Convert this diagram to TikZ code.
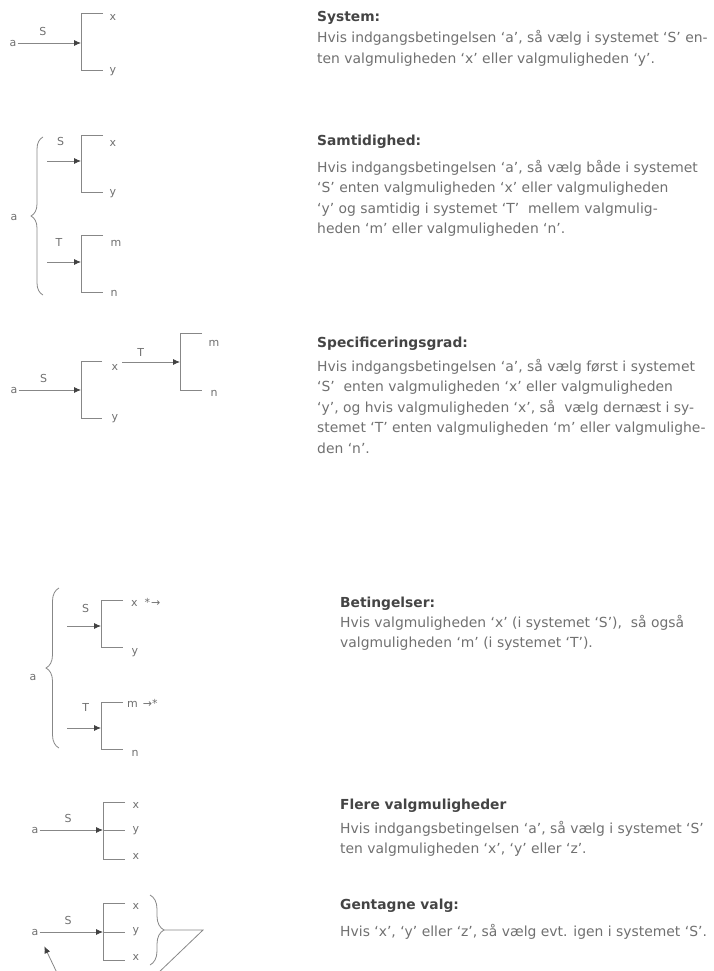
\documentclass[tikz,border=0pt]{standalone}
\usepackage{fontspec}
\setmainfont{DejaVu Sans}
\usepackage{tikz}
\usetikzlibrary{arrows.meta,positioning,decorations.pathreplacing}
\definecolor{linjegraa}{RGB}{135,135,135}
\definecolor{pilgraa}{RGB}{65,65,65}
\definecolor{tekstgraa}{RGB}{112,112,112}
\definecolor{overgraa}{RGB}{68,68,68}
\tikzset{
  etiket/.style={inner sep=1pt,text=tekstgraa,font=\fontsize{11}{13}\selectfont},
  linje/.style={draw=linjegraa,line width=0.8pt},
  pil/.style={-{Latex[length=7pt,width=6pt,color=pilgraa]},draw=linjegraa,line width=0.8pt},
  klamme/.style={draw=linjegraa,line width=0.8pt,decorate,decoration={brace,amplitude=#1}},
  overskrift/.style={anchor=base west,inner sep=0pt,text=overgraa,
    font=\bfseries\fontsize{13.8}{20.5}\selectfont},
  % base = sidste linjes grundlinje
  broedtekst/.style={anchor=base west,inner sep=0pt,align=left,text=tekstgraa,
    font=\fontsize{13.9}{20.5}\selectfont}
}

\begin{document}
\begin{tikzpicture}[x=1pt,y=-1pt]
\useasboundingbox (0,0) rectangle (714,971);

% System
\node[etiket] (a1) at (13,43) {a};
\coordinate (s1) at (81,43);
\coordinate (s1o) at (81,13);
\coordinate (s1n) at (81,70);
\draw[pil] (a1) -- node[etiket,above=6pt,pos=0.4] {S} (s1);
\draw[linje] ([xshift=22pt]s1o) -- (s1o) -- (s1n) -- ([xshift=22pt]s1n);
\node[etiket] (x1) at (113,17) {x};
\node[etiket] (y1) at (113,72) {y};
\node[overskrift] (overskr1) at (317,22) {System:};
\node[broedtekst] (beskr1) at (317,63.5) {Hvis indgangsbetingelsen ‘a’, så vælg i systemet ‘S’ en-\\
  ten valgmuligheden ‘x’ eller valgmuligheden ‘y’.};

% Samtidighed
\node[etiket] (a2) at (14,217) {a};
\draw[klamme=12pt] (43,295) -- (43,137);
\coordinate (s2a) at (47,161);
\coordinate (s2) at (81,161);
\coordinate (s2o) at (81,135);
\coordinate (s2n) at (81,192);
\draw[pil] (s2a) -- node[etiket,above=14pt,pos=0.4] {S} (s2);
\draw[linje] ([xshift=22pt]s2o) -- (s2o) -- (s2n) -- ([xshift=22pt]s2n);
\node[etiket] (x2) at (113,143) {x};
\node[etiket] (y2) at (113,194) {y};
\coordinate (t2a) at (47,262);
\coordinate (t2) at (81,262);
\coordinate (t2o) at (81,235);
\coordinate (t2n) at (81,292);
\draw[pil] (t2a) -- node[etiket,above=14pt,pos=0.35] {T} (t2);
\draw[linje] ([xshift=22pt]t2o) -- (t2o) -- (t2n) -- ([xshift=22pt]t2n);
\node[etiket] (m2) at (116,243) {m};
\node[etiket] (n2) at (114,293) {n};
\node[overskrift] (overskr2) at (317,146) {Samtidighed:};
\node[broedtekst] (beskr2) at (317,233.5) {Hvis indgangsbetingelsen ‘a’, så vælg både i systemet\\
  ‘S’ enten valgmuligheden ‘x’ eller valgmuligheden\\
  ‘y’ og samtidig i systemet ‘T’ \ mellem valgmulig-\\
  heden ‘m’ eller valgmuligheden ‘n’.};

% Specificeringsgrad
\node[etiket] (a3) at (14,390) {a};
\coordinate (s3) at (81,390);
\coordinate (s3o) at (81,361);
\coordinate (s3n) at (81,418);
\draw[pil] (a3) -- node[etiket,above=6pt,pos=0.4] {S} (s3);
\draw[linje] ([xshift=21pt]s3o) -- (s3o) -- (s3n) -- ([xshift=21pt]s3n);
\node[etiket] (x3) at (115,367) {x};
\node[etiket] (y3) at (115,419) {y};
\coordinate (t3) at (180,362);
\coordinate (t3o) at (180,333);
\coordinate (t3n) at (180,390);
\draw[pil,shorten <=3pt] (x3.east |- t3) -- node[etiket,above=4pt,pos=0.35] {T} (t3);
\draw[linje] ([xshift=22pt]t3o) -- (t3o) -- (t3n) -- ([xshift=22pt]t3n);
\node[etiket] (m3) at (214,343) {m};
\node[etiket] (n3) at (214,393) {n};
\node[overskrift] (overskr3) at (317,347) {Specificeringsgrad:};
\node[broedtekst] (beskr3) at (317,453) {Hvis indgangsbetingelsen ‘a’, så vælg først i systemet\\
  ‘S’ \ enten valgmuligheden ‘x’ eller valgmuligheden\\
  ‘y’, og hvis valgmuligheden ‘x’, så \ vælg dernæst i sy-\\
  stemet ‘T’ enten valgmuligheden ‘m’ eller valgmulighe-\\
  den ‘n’.};

% Betingelser
\node[etiket] (a4) at (33,677) {a};
\draw[klamme=13pt] (59,748) -- (59,588);
\coordinate (s4a) at (67,626);
\coordinate (s4) at (101,626);
\coordinate (s4o) at (101,600);
\coordinate (s4n) at (101,647);
\draw[pil] (s4a) -- node[etiket,above=12pt,pos=0.55] {S} (s4);
\draw[linje] ([xshift=22pt]s4o) -- (s4o) -- (s4n) -- ([xshift=22pt]s4n);
\node[etiket,anchor=west] (x4) at (130,602) {x\hspace{7pt}*\hspace{1pt}→};
\node[etiket] (y4) at (135,653) {y};
\coordinate (t4a) at (67,728);
\coordinate (t4) at (101,728);
\coordinate (t4o) at (101,702);
\coordinate (t4n) at (101,749);
\draw[pil] (t4a) -- node[etiket,above=15pt,pos=0.55] {T} (t4);
\draw[linje] ([xshift=22pt]t4o) -- (t4o) -- (t4n) -- ([xshift=22pt]t4n);
\node[etiket,anchor=west] (m4) at (126,703) {m\hspace{5pt}→*};
\node[etiket] (n4) at (135,753) {n};
\node[overskrift] (overskr4) at (340,607) {Betingelser:};
\node[broedtekst] (beskr4) at (340,647.5) {Hvis valgmuligheden ‘x’ (i systemet ‘S’), \ så også\\
  valgmuligheden ‘m’ (i systemet ‘T’).};

% Flere valgmuligheder
\node[etiket] (a5) at (35,830) {a};
\coordinate (s5) at (103,830);
\coordinate (s5o) at (103,802);
\coordinate (s5n) at (103,859);
\draw[pil] (a5) -- node[etiket,above=6pt,pos=0.45] {S} (s5);
\draw[linje] ([xshift=22pt]s5o) -- (s5o) -- (s5n) -- ([xshift=22pt]s5n);
\draw[linje] (s5) -- ([xshift=22pt]s5);
\node[etiket] (x5) at (136,805) {x};
\node[etiket] (y5) at (136,831) {y};
\node[etiket] (z5) at (136,856) {x};
\node[overskrift] (overskr5) at (340,809) {Flere valgmuligheder};
\node[broedtekst] (beskr5) at (340,853.5) {Hvis indgangsbetingelsen ‘a’, så vælg i systemet ‘S’\\
  ten valgmuligheden ‘x’, ‘y’ eller ‘z’.};

% Gentagne valg
\node[etiket] (a6) at (35,932) {a};
\coordinate (s6) at (103,932);
\coordinate (s6o) at (103,903);
\coordinate (s6n) at (103,960);
\draw[pil] (a6) -- node[etiket,above=6pt,pos=0.45] {S} (s6);
\draw[linje] ([xshift=22pt]s6o) -- (s6o) -- (s6n) -- ([xshift=22pt]s6n);
\draw[linje] (s6) -- ([xshift=22pt]s6);
\node[etiket] (x6) at (136,906) {x};
\node[etiket] (y6) at (136,932) {y};
\node[etiket] (z6) at (136,957) {x};
\draw[klamme=14pt] (150,895) -- (150,965);
\coordinate (k6) at (164,930);
\coordinate (v6) at (203,930);
\coordinate (h6) at (132,998);
\coordinate (l6) at (69,998);
\draw[pil,shorten >=11pt] (k6) -- (v6) -- (h6) -- (l6) -- (a6.south east);
\node[overskrift] (overskr6) at (340,909) {Gentagne valg:};
\node[broedtekst] (beskr6) at (340,936) {Hvis ‘x’, ‘y’ eller ‘z’, så vælg evt. igen i systemet ‘S’.};
\end{tikzpicture}
\end{document}
